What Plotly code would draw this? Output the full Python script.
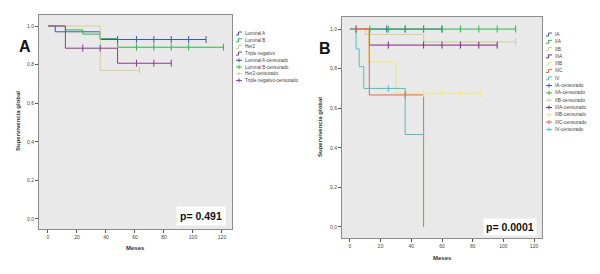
import numpy as np
import plotly.graph_objects as go

W, H = 600, 274

# ---------------- Panel A data ----------------
a_names = ["Luminal A", "Luminal B", "Her2", "Triple negativo"]
a_times = [[0, 5, 36], [0, 12, 24, 36, 48], [0, 36], [0, 12, 48]]
a_surv = [[1.0, 0.97, 0.93], [1.0, 0.98, 0.958, 0.935, 0.89], [1.0, 0.77], [1.0, 0.885, 0.807]]
a_end = [109, 121, 63, 85]
a_cens = [[48, 61, 73, 85, 97, 109], [61, 73, 85, 97, 121], [63], [24, 36, 61, 73, 85]]
a_pvalue = "p= 0.491"

# ---------------- Panel B data ----------------
b_names = ["IA", "IIA", "IIB", "IIIA", "IIIB", "IIIC", "IV"]
b_times = [[0], [0], [0, 10, 48], [0, 12.6], [0, 12, 30], [0, 12.6, 48], [0, 4, 6, 9, 36]]
b_surv = [[1.0], [1.0], [1.0, 0.973, 0.935], [1.0, 0.919], [1.0, 0.835, 0.675],
          [1.0, 0.667, 0.0], [1.0, 0.90, 0.81, 0.70, 0.467]]
b_end = [60, 108, 108, 96, 85, 48, 48]
b_cens = [[4, 24, 36, 48, 60], [13, 25, 36, 48, 60, 72, 84, 96, 108], [108],
          [25, 48, 60, 72, 84, 96], [48, 60, 72, 85], [4, 36], [25, 48]]
b_pvalue = "p= 0.0001"

x_ticks = [0, 20, 40, 60, 80, 100, 120]
y_ticks = [0.0, 0.2, 0.4, 0.6, 0.8, 1.0]
y_ticktext = ["0,0", "0,2", "0,4", "0,6", "0,8", "1,0"]

a_colors = ["#3E58AC", "#2EB848", "#D3CE97", "#8B3A8B"]
b_colors = ["#3E58AC", "#2EB848", "#D3CE97", "#7C287D", "#EDE77A", "#F0604A", "#48C2C5"]

FONT = "Liberation Sans, Arial, sans-serif"


def step_at(times, surv, t):
    idx = np.searchsorted(np.array(times), t, side="right") - 1
    return surv[max(idx, 0)]


fig = go.Figure()


def add_panel(names, times, surv, ends, cens, colors, xa, ya):
    for n, tt, ss, e, cc, col in zip(names, times, surv, ends, cens, colors):
        xs = list(tt) + [e]
        ys = list(ss) + [ss[-1]]
        fig.add_trace(go.Scatter(x=xs, y=ys, mode="lines", line=dict(color=col, width=1, shape="hv"),
                                 name=n, showlegend=False, xaxis=xa, yaxis=ya))
    for n, tt, ss, cc, col in zip(names, times, surv, cens, colors):
        cy = [step_at(tt, ss, c) for c in cc]
        fig.add_trace(go.Scatter(x=cc, y=cy, mode="markers",
                                 marker=dict(symbol="line-ns", size=5, line=dict(width=1, color=col), color=col),
                                 name=n + "-censurado", showlegend=False, xaxis=xa, yaxis=ya))


add_panel(a_names, a_times, a_surv, a_end, a_cens, a_colors, "x", "y")
add_panel(b_names, b_times, b_surv, b_end, b_cens, b_colors, "x2", "y2")


def px(x):
    return x / W


def py(y):
    return 1 - y / H


axis_common = dict(showline=True, mirror=True, linecolor="#8c8c8c", linewidth=1, ticks="outside",
                   ticklen=3, tickwidth=1, tickcolor="#555", showgrid=False, zeroline=False,
                   tickfont=dict(size=5, color="#444", family=FONT))

fig.update_layout(
    width=W, height=H, margin=dict(l=0, r=0, t=0, b=0),
    paper_bgcolor="white", plot_bgcolor="#E9E9E9", showlegend=False,
    xaxis=dict(domain=[px(39), px(232)], range=[-6.2, 126.9], tickvals=x_ticks, anchor="y", **axis_common),
    yaxis=dict(domain=[py(229), py(15)], range=[-0.052, 1.057], tickvals=y_ticks, ticktext=y_ticktext,
               anchor="x", **axis_common),
    xaxis2=dict(domain=[px(342), px(542)], range=[-5.2, 125.2], tickvals=x_ticks, anchor="y2", **axis_common),
    yaxis2=dict(domain=[py(238), py(17)], range=[-0.056, 1.061], tickvals=y_ticks, ticktext=y_ticktext,
                anchor="x2", **axis_common),
)

annotations = []
shapes = []


def text(x, y, s, size, bold=False, angle=0, xanchor="center", color="#333", **kw):
    annotations.append(dict(xref="paper", yref="paper", x=px(x), y=py(y), text=("<b>%s</b>" % s) if bold else s,
                            showarrow=False, textangle=angle, xanchor=xanchor, yanchor="middle",
                            font=dict(size=size, family=FONT, color=color), **kw))


# Axis titles and panel letters
text(135, 248, "Meses", 6, bold=True)
text(442, 258, "Meses", 6, bold=True)
text(18, 121, "Supervivencia global", 6, bold=True, angle=-90)
text(320, 127, "Supervivencia global", 6, bold=True, angle=-90)
text(25, 46, "A", 16, bold=True, color="#111")
text(325, 48, "B", 16, bold=True, color="#111")

# p-values
text(201, 216, a_pvalue, 10.5, bold=True, color="#111", bgcolor="white", borderpad=3)
text(510, 226.5, b_pvalue, 10.5, bold=True, color="#111", bgcolor="white", borderpad=2)


def legend(names, colors, x0, y0, dy, fsize):
    entries = [(n, c, False) for n, c in zip(names, colors)] + \
              [(n + "-censurado", c, True) for n, c in zip(names, colors)]
    for i, (n, c, cens) in enumerate(entries):
        y = y0 + i * dy
        if not cens:
            path = "M %f %f L %f %f L %f %f L %f %f" % (px(x0), py(y + 1.5), px(x0 + 2.5), py(y + 1.5),
                                                         px(x0 + 2.5), py(y - 1.5), px(x0 + 6), py(y - 1.5))
            shapes.append(dict(type="path", xref="paper", yref="paper", path=path,
                               line=dict(color=c, width=1)))
        else:
            shapes.append(dict(type="line", xref="paper", yref="paper", x0=px(x0), x1=px(x0 + 6),
                               y0=py(y), y1=py(y), line=dict(color=c, width=1)))
            shapes.append(dict(type="line", xref="paper", yref="paper", x0=px(x0 + 3), x1=px(x0 + 3),
                               y0=py(y - 2), y1=py(y + 2), line=dict(color=c, width=1)))
        text(x0 + 7, y, n, fsize, xanchor="left", color="#444")


legend(a_names, a_colors, 236, 33.5, 6.7, 4.6)
legend(b_names, b_colors, 546, 34.5, 7.3, 4.8)

fig.update_layout(annotations=annotations, shapes=shapes)

fig.write_html("out.html", config={"displayModeBar": False},
               post_script="document.body.style.margin='0px';document.body.style.overflow='hidden';")
